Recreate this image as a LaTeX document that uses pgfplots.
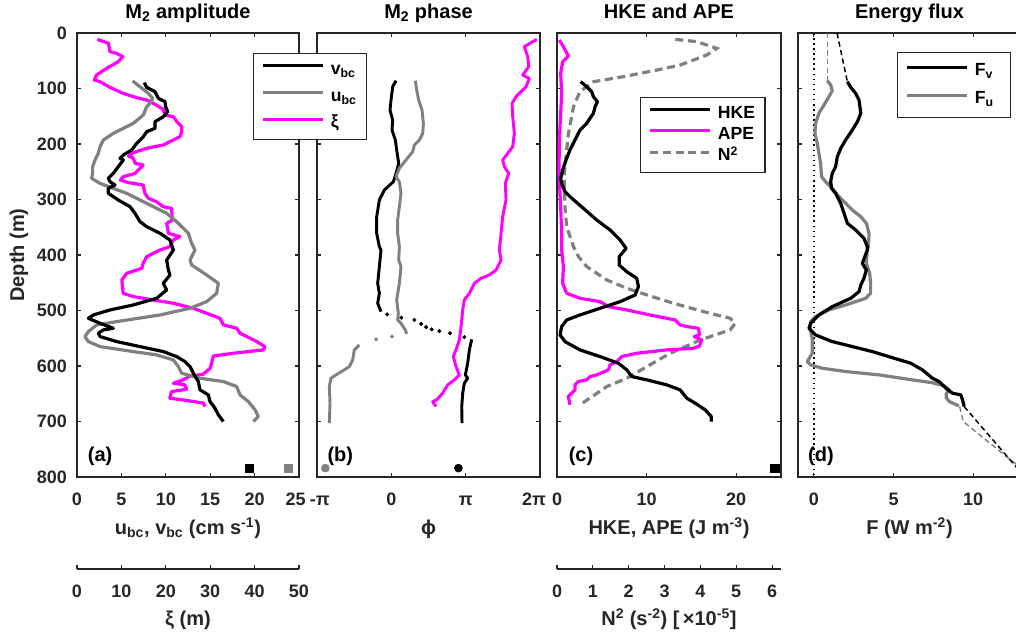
\documentclass[border=0pt]{standalone}
\usepackage{fontspec}
\setmainfont{Liberation Sans}
\usepackage{pgfplots}
\pgfplotsset{compat=1.18}

\definecolor{axiscol}{gray}{0.15}
\definecolor{midgray}{gray}{0.5}
\definecolor{xicol}{rgb}{1,0,1}

\newcommand\tickfont{\fontsize{13.5}{15}\selectfont\bfseries}
\newcommand\labfont{\fontsize{15}{17}\selectfont\bfseries}
\newcommand\legfont{\fontsize{13.2}{15}\selectfont\bfseries}

\pgfplotsset{
  panel/.style={
    scale only axis, height=333pt, anchor=south west,
    y dir=reverse, ymin=0, ymax=800, ytick={0,100,...,800},
    axis line style={draw=axiscol, line width=0.8pt},
    every tick/.style={draw=axiscol, line width=0.8pt},
    major tick length=3.2pt, tick align=inside,
    /pgf/number format/assume math mode=true,
    tick label style={font=\tickfont, text=axiscol},
    xticklabel style={anchor=base, yshift=-21pt},
    yticklabel style={anchor=east, xshift=-4pt},
    title style={font=\labfont, anchor=base, at={(0.5,1)}, yshift=5.25pt},
    xlabel style={font=\labfont, text=axiscol, anchor=base, at={(0.5,0)}, yshift=-42.75pt},
  },
  overlayax/.style={scale only axis, height=333pt, anchor=south west,
    y dir=reverse, ymin=0, ymax=800, hide axis},
  lowerax/.style={scale only axis, height=20pt, anchor=south west,
    ymin=0, ymax=1, axis x line*=bottom, axis y line=none,
    x axis line style={-, draw=axiscol, line width=0.8pt},
    every tick/.style={draw=axiscol, line width=0.8pt},
    major tick length=3.2pt, xtick align=inside,
    /pgf/number format/assume math mode=true,
    tick label style={font=\tickfont, text=axiscol},
    xticklabel style={anchor=base, yshift=-21pt},
    xlabel style={font=\labfont, text=axiscol, anchor=base, at={(0.5,0)}, yshift=-42pt},
  },
  leg/.style n args={2}{legend cell align=left,
    legend style={draw=axiscol, line width=0.8pt, fill=white, font=\legfont,
      text=black, inner xsep=6pt, inner ysep=#2, row sep=#1, column sep=3pt,
      nodes={inner sep=1.5pt, text height=9pt, text depth=2pt}},
    legend image code/.code={\draw[##1] (0pt,3pt) -- (45pt,3pt);}},
  thick line/.style={line width=2.4pt, line join=round},
}

\begin{document}
\begin{tikzpicture}

% ---------------- (a) M2 amplitude ----------------
% isopycnal displacement on its own 0-50 m scale
\begin{axis}[overlayax, at={(57.75pt,116.25pt)}, width=166.5pt, xmin=0, xmax=50]
\addplot[xicol, thick line] table {
4.6 11.4
7.1 18.6
7.4 33.6
8.9 36.6
10.3 42.6
9.3 51.6
6.7 63.7
4.4 75.7
3.9 84.7
5.2 87.7
7.4 97.9
10.4 108.7
13.4 116.5
15.7 120.7
17.2 126.7
19.4 137.5
19.8 147.7
21.7 150.8
22.5 159.8
23.6 168.8
23.6 177.8
23.2 186.8
21.7 192.8
19.4 201.8
15.7 207.8
12.7 215.6
11.6 221.6
12.7 225.8
13.1 234.8
14.9 237.8
14.2 243.8
13.1 252.9
10.4 258.9
9.8 264.9
11.6 269.7
12.7 270.9
14.9 273.9
15.3 288.9
16.1 297.9
17.9 303.9
19.4 312.9
21.3 315.9
21.5 336.9
20.2 342.9
20.6 360.9
23.2 366.9
21.7 372.9
20.9 385
18.7 391
15.7 403
14.9 415
14.6 424
11.2 433
10.1 445
10.4 469
12.7 475
17.2 481
21.7 487
26.2 496
29.2 505
32.2 514
33.0 526
36.0 532
36.7 541
39.0 550
40.5 556
42.3 565
42.0 571
35.2 577
30.7 582
30.3 595
30.0 604
28.4 615
25.5 618
23.9 625
21.7 631
24.3 634
24.7 642
21.3 646
20.9 658
24.7 662
28.5 667
28.8 673
};
\end{axis}

\begin{axis}[panel, at={(57.75pt,116.25pt)}, width=166.5pt,
  xmin=0, xmax=25, xtick={0,5,...,25},
  xticklabels={0,5,10,15,20,25\hspace*{5pt}},
  title={M\textsubscript{2} amplitude},
  xlabel={u\textsubscript{bc}, v\textsubscript{bc} (cm s\textsuperscript{-1})},
  ylabel={Depth (m)},
  ylabel style={font=\labfont, text=axiscol, at={(axis description cs:-0.2387,0.5)}, anchor=base}]
% u_bc
\addplot[midgray, thick line] table {
6.27 86.5
7.09 96.7
8.03 108.7
8.52 117.7
8.22 126.7
7.85 132.7
7.47 147.7
6.34 162.8
5.22 171.8
4.09 180.8
2.97 192.8
2.59 204.8
2.40 216.8
2.03 228.8
1.76 240.8
1.76 252.9
1.65 261.9
2.59 270.9
4.09 279.9
5.59 288.9
7.09 300.9
8.60 312.9
10.10 324.9
11.22 339.9
12.54 360.9
12.91 378.9
13.29 391
12.73 409
12.91 418
14.60 436
15.92 451
15.73 469
14.60 484
12.73 496
9.35 508
4.47 520
2.21 526
1.28 538
0.90 547
1.28 556
2.59 565
6.34 574
8.97 580
10.85 589
11.41 601
11.79 613
13.85 622
16.48 628
17.98 637
18.36 652
19.29 664
20.05 679
20.42 691
19.86 700
};
% v_bc
\addplot[black, thick line] table {
7.58 89.5
7.85 97.9
8.78 105.7
9.16 117.7
9.91 123.7
9.98 132.7
10.21 141.7
9.72 150.8
8.78 159.8
8.78 171.8
7.85 177.8
7.47 186.8
6.72 198.8
6.16 210.8
5.22 219.8
4.84 225.8
5.22 228.8
4.65 240.8
4.09 252.9
3.53 261.9
3.72 267.9
4.28 273.9
3.53 279.9
3.53 288.9
4.65 300.9
5.97 312.9
6.53 324.9
7.09 339.9
7.85 348.9
9.35 360.9
10.47 373
10.85 391
10.10 409
10.29 427
10.47 436
9.72 451
10.10 463
8.97 478
6.34 490
3.72 499
1.84 508
1.28 514
2.59 523
4.09 532
2.96 535
2.40 541
2.59 547
4.47 556
7.09 565
9.72 574
11.22 583
12.16 592
12.73 601
13.10 613
13.66 628
13.85 643
14.79 652
14.98 664
15.54 676
15.92 688
16.48 700
};
\addplot[black, only marks, mark=square*, mark size=3.2pt] coordinates {(19.4,784)};
\addplot[midgray, only marks, mark=square*, mark size=3.2pt] coordinates {(23.8,784)};
\node[font=\labfont, text=black] at (axis cs:2.6,762) {(a)};
\end{axis}

\begin{axis}[lowerax, at={(57.75pt,47.25pt)}, width=166.5pt,
  xmin=0, xmax=50, xtick={0,10,...,50}, xlabel={ξ (m)}]
\end{axis}

% ---------------- (b) M2 phase ----------------
\begin{axis}[panel, at={(237.75pt,116.25pt)}, width=167.25pt,
  xmin=-3.14159, xmax=6.28319, xtick={-3.14159,0,3.14159,6.28319},
  xticklabels={\hspace*{4pt}-π,0,π,2π\hspace*{9pt}}, yticklabels={},
  title={M\textsubscript{2} phase}, xlabel={ϕ}]
% v_bc phase
\addplot[black, line width=2.2pt, line join=round] table {
0.198 85.9
0.057 96.7
-0.013 120.7
-0.057 138.7
0.057 156.8
0.028 174.8
0.170 192.8
0.226 210.8
0.311 234.8
0.198 252.9
0.085 267.9
-0.295 282.9
-0.506 300.9
-0.619 330.9
-0.619 360.9
-0.506 385
-0.437 391
-0.506 421
-0.578 451
-0.506 469
-0.578 487
-0.437 502
};
\addplot[black, only marks, mark=*, mark size=1.3pt] table {
-0.182 507
0.424 513
0.974 517
1.257 524
1.467 530
1.706 534
2.029 537
2.482 541
3.085 548
};
\addplot[black, line width=2.2pt, line join=round] table {
3.396 552
3.299 571
3.226 595
3.129 616
3.226 622
3.085 631
3.016 649
2.975 673
2.988 703
};
% u_bc phase
\addplot[midgray, line width=2.2pt, line join=round] table {
1.015 85.9
1.071 102.7
1.156 120.7
1.297 138.7
1.354 162.8
1.326 180.8
1.184 192.8
0.974 201.8
0.902 213.8
0.619 228.8
0.339 243.8
0.198 258.9
0.339 267.9
0.408 288.9
0.339 312.9
0.267 336.9
0.267 360.9
0.339 385
0.311 409
0.408 421
0.339 451
0.226 481
0.295 505
0.267 517
0.408 523
0.591 535
0.647 542
};
\addplot[midgray, only marks, mark=*, mark size=1.3pt] table {
0.028 547
-0.647 552
};
\addplot[midgray, line width=2.2pt, line join=round] table {
-1.354 562
-1.565 571
-1.634 589
-1.775 601
-1.989 607
-2.340 616
-2.551 622
-2.620 637
-2.592 667
-2.620 703
};
% xi phase
\addplot[xicol, line width=2.2pt, line join=round] table {
6.145 11.4
5.906 17.4
5.623 24.6
5.765 42.6
5.806 60.7
5.554 75.7
5.834 81.7
5.693 96.7
5.272 114.7
5.102 126.7
5.130 150.8
5.199 180.8
5.130 204.8
4.920 216.8
4.706 228.8
4.778 240.8
4.961 252.9
4.819 270.9
4.847 300.9
4.706 330.9
4.637 360.9
4.568 391
4.637 409
4.426 427
4.144 436
3.792 442
3.509 451
3.299 469
3.085 481
3.016 499
2.947 529
2.875 553
2.733 571
2.620 583
2.733 601
2.875 616
2.664 625
2.381 634
2.171 649
1.916 661
1.747 664
1.888 673
};
\addplot[midgray, only marks, mark=*, mark size=3pt] coordinates {(-2.79,784)};
\addplot[black, only marks, mark=*, mark size=3pt] coordinates {(2.834,784)};
\node[font=\labfont, text=black] at (axis cs:-2.156,762) {(b)};
\end{axis}

% ---------------- (c) HKE and APE ----------------
% buoyancy frequency on its own 0-6.25 scale
\begin{axis}[overlayax, at={(417.75pt,116.25pt)}, width=168pt, xmin=0, xmax=6.25]
\addplot[midgray, line width=2.4pt, dash pattern=on 6pt off 3.5pt] table {
3.30 11.4
3.90 15.6
4.46 27.6
4.18 39.6
3.44 57.7
2.79 66.7
1.85 78.7
1.02 87.7
0.64 105.7
0.46 132.7
0.32 180.8
0.22 240.8
0.20 264.9
0.22 312.9
0.27 348.9
0.46 385
0.60 403
0.83 421
1.39 445
1.95 460
2.51 472
3.25 487
4.09 502
4.83 514
4.97 523
4.83 535
4.00 553
3.16 577
2.51 601
1.95 622
1.39 637
0.64 670
};
\end{axis}

\begin{axis}[panel, at={(417.75pt,116.25pt)}, width=168pt,
  xmin=0, xmax=25, xtick={0,10,20}, yticklabels={},
  title={HKE and APE}, xlabel={HKE, APE (J m\textsuperscript{-3})},
  leg={2pt}{5pt}, legend style={at={(axis description cs:0.371,0.856)}, anchor=north west}]
\addlegendimage{black, line width=2.4pt}
\addlegendentry{HKE}
\addlegendimage{xicol, line width=2.4pt}
\addlegendentry{APE}
\addlegendimage{midgray, line width=2.4pt, dash pattern=on 6pt off 3.5pt}
\addlegendentry{N\textsuperscript{2}}
% APE
\addplot[xicol, thick line, forget plot] table {
0.26 12.6
0.71 24.6
1.27 41.4
0.63 51.6
0.41 72.7
0.52 108.7
0.41 144.7
0.26 192.8
0.22 252.9
0.41 312.9
0.52 360.9
0.52 391
0.71 421
0.63 451
1.08 469
2.57 478
4.80 484
5.74 493
7.78 499
10.39 508
13.18 517
13.74 526
14.49 529
15.79 532
15.90 544
15.30 547
16.16 553
15.90 564
15.23 568
12.25 571
8.90 577
7.23 583
6.67 592
5.92 598
5.74 607
4.43 616
3.69 619
3.31 625
2.38 628
2.01 634
2.01 643
1.64 649
1.27 655
1.45 670
};
% HKE
\addplot[black, thick line, forget plot] table {
2.64 87.7
3.31 96.7
3.87 105.7
4.06 114.7
4.51 123.7
4.25 132.7
4.06 144.7
3.31 162.8
2.57 174.8
2.01 192.8
1.45 210.8
1.01 228.8
0.63 246.8
0.41 261.9
0.52 270.9
0.89 285.9
1.45 294.9
2.94 315.9
4.43 336.9
5.92 354.9
7.04 373
7.71 388
6.94 403
6.94 418
7.78 430
8.90 442
9.09 457
8.72 472
7.04 484
4.80 496
2.57 508
1.08 517
0.52 529
0.34 544
0.89 556
2.57 571
4.80 583
6.85 595
7.79 607
8.34 619
10.02 625
12.25 634
13.74 643
14.49 658
15.42 667
16.54 679
17.21 691
17.21 700
};
\addplot[black, only marks, mark=square*, mark size=3.2pt, forget plot] coordinates {(24.28,784)};
\node[font=\labfont, text=black] at (axis cs:2.68,762) {(c)};
\end{axis}

\begin{axis}[lowerax, at={(417.75pt,47.25pt)}, width=168pt,
  xmin=0, xmax=6.25, xtick={0,1,...,6},
  xlabel={N\textsuperscript{2} (s\textsuperscript{-2}) [\,×10\textsuperscript{-5}]}]
\end{axis}

% ---------------- (d) Energy flux ----------------
\begin{axis}[panel, at={(598.5pt,116.25pt)}, width=167.25pt,
  xmin=-1, xmax=13, xtick={0,5,10}, yticklabels={},
  title={Energy flux}, xlabel={F (W m\textsuperscript{-2})},
  leg={7pt}{6.9pt}, legend style={at={(axis description cs:0.444,0.957)}, anchor=north west}]
\addlegendimage{black, line width=2.4pt}
\addlegendentry{F\textsubscript{v}\hspace*{5pt}}
\addlegendimage{midgray, line width=2.4pt}
\addlegendentry{F\textsubscript{u}\hspace*{5pt}}
\addplot[black, line width=1.2pt, dash pattern=on 1.2pt off 2.6pt, forget plot] coordinates {(0,0) (0,800)};
% extrapolated ends
\addplot[midgray, line width=1.1pt, dash pattern=on 4pt off 2.5pt, forget plot] coordinates {(0.84,0) (0.84,86)};
\addplot[black, line width=1.1pt, dash pattern=on 4pt off 2.5pt, forget plot] coordinates {(1.45,0) (2.1,88)};
\addplot[midgray, line width=1.1pt, dash pattern=on 4pt off 2.5pt, forget plot] coordinates {(9.15,673) (9.37,700) (12.47,772) (13.1,786)};
\addplot[black, line width=1.1pt, dash pattern=on 4pt off 2.5pt, forget plot] coordinates {(9.43,673) (12.58,778) (13.24,800)};
% F_u
\addplot[midgray, thick line, forget plot] table {
0.84 85.9
1.05 93.7
1.15 103.9
0.94 114.7
0.63 129.7
0.31 144.7
0.10 162.8
0.06 180.8
0.21 198.8
0.31 216.8
0.42 234.8
0.48 258.9
0.73 267.9
1.05 276.9
1.57 294.9
1.99 306.9
2.41 318.9
2.94 330.9
3.29 342.9
3.46 360.9
3.42 385
3.35 391
3.29 415
3.50 433
3.56 451
3.56 469
3.25 478
1.99 490
0.94 499
0.10 511
-0.21 520
-0.21 535
-0.10 553
-0.10 577
-0.42 592
-0.21 598
0.52 604
1.99 610
4.09 616
6.18 625
7.40 630
8.20 636
8.50 643
8.30 650
8.30 657
8.50 664
9.10 672
};
% F_v
\addplot[black, thick line, forget plot] table {
2.10 87.7
2.31 97.9
2.62 108.7
2.83 120.7
2.94 144.7
2.73 159.8
2.41 174.8
1.99 192.8
1.68 207.8
1.47 222.8
1.36 240.8
1.15 252.9
1.05 267.9
1.11 279.9
1.36 288.9
1.68 306.9
1.89 324.9
2.10 342.9
2.62 354.9
3.14 369.9
3.35 385
3.35 391
3.04 415
3.29 427
3.14 442
2.94 454
2.83 466
2.31 478
1.15 493
0.31 508
-0.21 523
-0.31 532
0.10 544
1.15 556
2.41 565
3.67 574
5.03 586
6.08 595
6.81 607
7.44 622
7.86 628
8.28 640
8.70 649
9.22 652
9.33 661
9.43 673
};
\node[font=\labfont, text=black] at (axis cs:0.44,762) {(d)};
\end{axis}

% legend of panel (a), drawn last so that it lies over the frame of (b)
\begin{axis}[at={(57.75pt,116.25pt)}, anchor=south west, scale only axis,
  width=166.5pt, height=333pt, hide axis, xmin=0, xmax=1, ymin=0, ymax=1,
  leg={6pt}{5.25pt}, legend style={at={(axis description cs:0.793,0.955)}, anchor=north west}]
\addlegendimage{black, line width=2.4pt}
\addlegendentry{v\textsubscript{bc}}
\addlegendimage{midgray, line width=2.4pt}
\addlegendentry{u\textsubscript{bc}}
\addlegendimage{xicol, line width=2.4pt}
\addlegendentry{ξ}
\end{axis}

\pgfresetboundingbox
\useasboundingbox (0pt,0pt) rectangle (762pt,474pt);
\end{tikzpicture}
\end{document}
